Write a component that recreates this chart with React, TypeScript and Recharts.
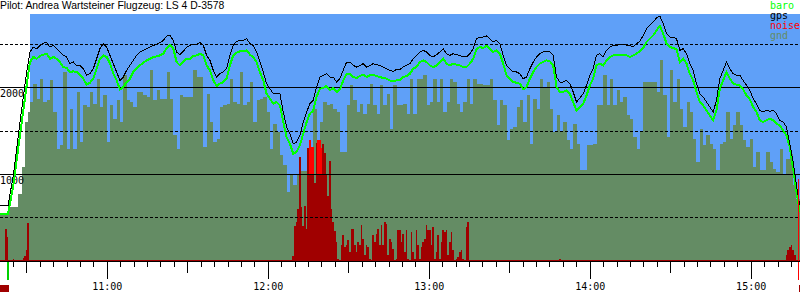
import React from "react";
import { Area, Bar, ComposedChart, Line, ReferenceArea, ReferenceLine, XAxis, YAxis } from "recharts";

const title = "Pilot: Andrea Wartsteiner Flugzeug: LS 4 D-3578";
const legendNames = ["baro", "gps", "noise", "gnd"];
const legendColors = ["#00ff00", "#000000", "#ff0000", "#648c64"];

// time in minutes since midnight
const startMin = 620;
const endMin = 918.2;
const trackStart = 631.18;
const trackStep = 1.2422;
const altMax = 2850;
const gridSolid = [1000, 2000];
const gridDashed = [500, 1500, 2500];

// ground roll and climb
const climbTimes = [620, 623, 624.97, 627.45, 629.94];
const gpsClimb = [642, 642, 988, 1603, 2181];
const baroClimb = [546, 546, 873, 1450, 2027];
const gndClimbTimes = [620, 623.1, 626.83, 628.08, 629.32, 630.56];
const gndClimb = [546, 623, 777, 1084, 1603, 1719];

const gpsAlt = [
  2411, 2469, 2450, 2488, 2515, 2519, 2469, 2488, 2450, 2411, 2373, 2354, 2277, 2296, 2257, 2257, 2219, 2142, 2161, 2219,
  2334, 2450, 2508, 2469, 2373, 2277, 2181, 2084, 2123, 2200, 2257, 2315, 2373, 2411, 2431, 2450, 2469, 2488, 2500, 2519,
  2546, 2596, 2604, 2546, 2411, 2381, 2419, 2469, 2488, 2500, 2500, 2519,
  2488, 2373, 2315, 2200, 2123, 2161, 2181, 2219, 2373, 2488, 2534, 2546, 2546, 2565, 2508, 2488, 2411, 2296, 2181, 2046,
  1988, 1930, 1930, 1930, 1719, 1546, 1469, 1353, 1373, 1450, 1603, 1719, 1815, 1854, 2007, 2123, 2142, 2161, 2123, 2123,
  2065, 2104, 2200, 2296, 2296, 2257, 2238, 2257, 2277, 2238, 2257, 2277, 2265, 2257, 2238, 2219, 2200, 2188, 2211, 2211,
  2238, 2257, 2277, 2334, 2373, 2411, 2431, 2411, 2373, 2354, 2381, 2411, 2450, 2392, 2373, 2392, 2381, 2373, 2354, 2354,
  2392, 2450, 2565, 2584, 2584, 2596, 2565, 2527, 2546, 2508, 2373, 2257, 2219, 2181, 2181, 2161, 2104, 2123, 2219, 2296,
  2354, 2392, 2411, 2419, 2411, 2373, 2123, 2065, 2065, 2084, 2046, 1950, 1834, 1880, 1930, 2027, 2142, 2219, 2373, 2392,
  2354, 2431, 2469, 2488, 2488, 2500, 2504, 2488, 2488, 2469, 2508, 2534, 2604, 2681, 2719, 2758, 2804, 2827, 2738, 2623,
  2584, 2584, 2565, 2431, 2450, 2392, 2277, 2200, 2046, 1930, 1892, 1834, 1777, 1719, 1854, 2104, 2200, 2296, 2219, 2161,
  2142, 2142, 2084, 2027, 1969, 1873, 1815, 1738, 1719, 1738, 1727, 1738, 1700, 1623, 1604, 1546, 1353, 1142, 872, 642,
];

const baroAlt = [
  2296, 2354, 2334, 2365, 2381, 2392, 2334, 2354, 2334, 2296, 2238, 2227, 2181, 2188, 2181, 2150, 2104, 2034, 2057, 2104,
  2219, 2334, 2373, 2354, 2277, 2161, 2084, 1980, 2007, 2065, 2104, 2181, 2219, 2257, 2288, 2315, 2334, 2354, 2361, 2373,
  2392, 2458, 2488, 2450, 2296, 2257, 2304, 2334, 2334, 2365, 2373, 2392,
  2373, 2257, 2200, 2084, 2019, 2046, 2065, 2104, 2257, 2373, 2404, 2419, 2419, 2431, 2381, 2354, 2296, 2181, 2084, 1930,
  1873, 1815, 1834, 1796, 1603, 1430, 1353, 1238, 1257, 1334, 1469, 1603, 1700, 1738, 1892, 1988, 1996, 2019, 1969, 1996,
  1950, 1980, 2084, 2161, 2161, 2123, 2111, 2134, 2150, 2123, 2142, 2150, 2134, 2123, 2111, 2104, 2084, 2073, 2084, 2084,
  2123, 2134, 2161, 2219, 2238, 2296, 2315, 2296, 2257, 2238, 2257, 2296, 2334, 2277, 2257, 2277, 2265, 2257, 2238, 2238,
  2277, 2334, 2442, 2469, 2458, 2481, 2450, 2411, 2431, 2392, 2277, 2142, 2104, 2065, 2057, 2046, 1980, 2007, 2104, 2181,
  2238, 2277, 2296, 2315, 2304, 2257, 2007, 1950, 1950, 1969, 1930, 1834, 1738, 1777, 1815, 1911, 2027, 2104, 2257, 2277,
  2257, 2315, 2354, 2373, 2373, 2381, 2381, 2373, 2354, 2373, 2392, 2419, 2458, 2527, 2565, 2604, 2661, 2711, 2623, 2508,
  2469, 2458, 2442, 2296, 2334, 2277, 2161, 2084, 1950, 1834, 1796, 1738, 1681, 1623, 1738, 1988, 2084, 2181, 2104, 2046,
  2034, 2027, 1980, 1911, 1865, 1777, 1719, 1623, 1604, 1623, 1642, 1623, 1584, 1565, 1507, 1450, 1315, 1065, 796, 565,
];

const gndAlt = [
  1834, 2046, 1873, 2104, 1834, 1854, 2084, 1719, 1296, 1334, 2181, 1296, 1757, 1296, 1950, 1373, 1796, 1777, 1950, 1815,
  2104, 1777, 1911, 1373, 1796, 1642, 1854, 1603, 2142, 1854, 1834, 1777, 1950, 1950, 1911, 1892, 2200, 1854, 1969, 1873,
  1873, 2181, 1873, 1450, 1296, 1911, 1892, 1892, 1892, 2200, 2123,
  2123, 1315, 1930, 1603, 1373, 1411, 1777, 1796, 1815, 2104, 1834, 1815, 2181, 1796, 1834, 2065, 1603, 1854, 1873, 1892,
  1719, 1296, 1584, 1488, 1219, 1104, 800, 988, 873, 988, 1034, 1034, 1034, 1027, 1757, 1027, 1603, 1834, 1796, 1815,
  1757, 1719, 1257, 1257, 1796, 2027, 1854, 1719, 1815, 1700, 1815, 2046, 1796, 1700, 2027, 1796, 1930, 1527, 2027, 1796,
  1796, 1815, 1700, 2104, 1700, 2104, 2104, 2142, 1796, 1834, 2104, 1834, 2104, 1719, 1834, 2104, 2065, 1815, 1719, 1834,
  2104, 1815, 2104, 2046, 2046, 2034, 2027, 2104, 1854, 1565, 1854, 1796, 1392, 1527, 1546, 1777, 1854, 1603, 1911, 1354,
  1873, 1757, 2104, 2008, 2065, 1757, 1488, 1681, 1488, 1603, 1392, 1296, 1584, 1354, 1046, 1046, 1334, 1334, 1354, 1796,
  1796, 2142, 1796, 2104, 1796, 1969, 1834, 1892, 1681, 1642, 1430, 1296, 1488, 2065, 2065, 2065, 2065, 1950, 2315, 1911,
  1430, 2200, 1834, 2104, 1757, 1546, 1834, 1719, 1411, 1142, 1527, 1334, 1450, 1354, 1296, 1046, 1354, 1373, 1719, 1411,
  1565, 1719, 1565, 1392, 1315, 1411, 1084, 1257, 1046, 1046, 1257, 1142, 1065, 1027, 1296, 988, 1180, 1238, 873, 719,
];

// engine noise level
const noiseEarlyTimes = [622.24, 622.86, 624.97, 628.7, 629.32, 629.94, 630.56];
const noiseEarly = [369, 277, 20, 40, 60, 127, 438];
const noiseStart = 729.32;
const noiseStep = 0.6211;
const noiseMain = [
  60, 400, 450, 600, 1200, 620, 400, 640, 370, 1300, 1396, 1320, 1320, 900, 1365, 1396, 1396, 1300, 1350, 1250,
  1000, 750, 1150, 600, 450, 350,
  219, 26, 7, 180, 296, 161, 180, 238, 103, 372, 372, 180, 103, 219, 180, 411, 257, 65, 180, 161,
  26, 7, 296, 219, 315, 372, 180, 411, 180, 449, 430, 65, 257, 219, 142, 7, 26, 353,
  353, 219, 315, 103, 353, 26, 7, 334, 103, 26, 353, 180, 26, 161, 219, 257, 411, 353, 353, 180,
  392, 26, 103, 296, 26, 219, 353, 334, 353, 65, 219, 334, 123, 7, 26, 46, 103, 123, 26, 7, 392, 449,
];
// samples drawn bright red above the hot floor
const noiseHotIdx = [10, 11, 12, 15, 16, 17];
const noiseHotFloor = 1000;
const noiseLateTimes = [828.7, 913.18, 913.8, 914.42, 915.04, 915.66, 916.28];
const noiseLate = [26, 65, 123, 161, 180, 123, 65];
const noiseFloor = 9;

const takeoff = [622.5, 623.4];
const landing = [917.3, 917.8];

const lineData = [
  ...climbTimes.map((t, i) => ({ t, gps: gpsClimb[i], baro: baroClimb[i] })),
  ...gpsAlt.map((v, i) => ({ t: trackStart + i * trackStep, gps: v, baro: baroAlt[i] })),
];

const gndData = [
  ...gndClimbTimes.map((t, i) => ({ t, gnd: gndClimb[i] })),
  ...gndAlt.map((v, i) => ({ t: trackStart + i * trackStep, gnd: v })),
  { t: endMin, gnd: gndAlt[gndAlt.length - 1] },
];

const noiseData = [
  ...noiseEarlyTimes.map((t, i) => ({ t, noise: noiseEarly[i], hot: 0 })),
  ...noiseMain.map((v, i) => {
    const isHot = noiseHotIdx.includes(i);
    return {
      t: noiseStart + i * noiseStep,
      noise: isHot ? noiseHotFloor : v,
      hot: isHot ? v - noiseHotFloor : 0,
    };
  }),
  ...noiseLateTimes.map((t, i) => ({ t, noise: noiseLate[i], hot: 0 })),
];

const timeTicks: number[] = [];
for (let m = 625; m <= 915; m += 5) timeTicks.push(m);

const mono = "'DejaVu Sans Mono', monospace";

function TimeTick(props: any) {
  const { x, y, payload } = props;
  const m = Math.round(payload.value);
  const hour = m % 60 === 0;
  const half = m % 30 === 0;
  const len = hour ? 18 : half ? 12 : 6;
  return (
    <g>
      <line x1={x} x2={x} y1={y} y2={y + len} stroke="#000" />
      {hour && (
        <text x={x} y={y + 28.5} textAnchor="middle" fontFamily={mono} fontSize={10} fill="#000">
          {`${m / 60}:00`}
        </text>
      )}
    </g>
  );
}

const altLabel = (text: string) => (props: any) => (
  <text x={props.viewBox.x} y={props.viewBox.y + 9.5} fontFamily={mono} fontSize={10} fill="#000">
    {text}
  </text>
);

export default function App() {
  return (
    <div style={{ position: "absolute", left: 0, top: 0, width: 800, height: 300, background: "#fff" }}>
      <style>{".recharts-wrapper svg { shape-rendering: crispEdges; }"}</style>
      <ComposedChart
        width={800}
        height={300}
        data={noiseData}
        margin={{ top: 14, right: 0, bottom: 0, left: 0 }}
        barCategoryGap={0}
        barGap={0}
      >
        <XAxis
          dataKey="t"
          type="number"
          domain={[startMin, endMin]}
          allowDataOverflow
          ticks={timeTicks}
          interval={0}
          tick={<TimeTick />}
          tickLine={false}
          tickSize={0}
          tickMargin={0}
          height={39}
          axisLine={{ stroke: "#000" }}
        />
        <XAxis xAxisId="n" dataKey="t" type="number" domain={[startMin, endMin]} allowDataOverflow hide />
        <YAxis hide domain={[0, altMax]} allowDataOverflow />

        <ReferenceArea x1={trackStart} x2={endMin} y1={0} y2={altMax} fill="#5fa0f8" fillOpacity={1} stroke="none" zIndex={-200} />
        <Area
          data={gndData}
          dataKey="gnd"
          name="gnd"
          type="stepAfter"
          stroke="none"
          fill="#648c64"
          fillOpacity={1}
          baseValue={0}
          isAnimationActive={false}
          zIndex={100}
        />
        <Bar xAxisId="n" stackId="noise" dataKey="noise" name="noise" fill="#a00000" barSize={2} isAnimationActive={false} zIndex={300} />
        <Bar xAxisId="n" stackId="noise" dataKey="hot" fill="#ff0000" barSize={2} isAnimationActive={false} zIndex={300} />
        <ReferenceLine y={noiseFloor} stroke="#a00000" zIndex={302} />

        {gridDashed.map((v) => (
          <ReferenceLine key={v} y={v} stroke="#000" strokeDasharray="3 2" zIndex={350} />
        ))}
        {gridSolid.map((v) => (
          <ReferenceLine key={v} y={v} stroke="#000" zIndex={350} label={{ content: altLabel(String(v)) }} />
        ))}

        <Line data={lineData} dataKey="baro" name="baro" stroke="#00ff00" strokeWidth={2} dot={false} isAnimationActive={false} zIndex={400} />
        <Line data={lineData} dataKey="gps" name="gps" stroke="#000" strokeWidth={1} dot={false} isAnimationActive={false} zIndex={401} />

        <ReferenceArea x1={takeoff[0]} x2={takeoff[1]} y1={-220} y2={0} fill="#00d000" fillOpacity={1} stroke="none" ifOverflow="visible" zIndex={450} />
        <ReferenceArea x1={landing[0]} x2={landing[1]} y1={-220} y2={950} fill="#ff0000" fillOpacity={1} stroke="none" ifOverflow="visible" zIndex={450} />
        <ReferenceArea x1={startMin} x2={takeoff[1]} y1={-355} y2={-277} fill="#a00000" fillOpacity={1} stroke="none" ifOverflow="visible" zIndex={450} />
        <ReferenceArea x1={landing[1]} x2={endMin} y1={-355} y2={-277} fill="#a00000" fillOpacity={1} stroke="none" ifOverflow="visible" zIndex={450} />
      </ComposedChart>

      <div
        style={{
          position: "absolute",
          left: 0,
          top: 0,
          fontFamily: "'Liberation Sans', Arial, sans-serif",
          fontSize: 10.4,
          lineHeight: "12px",
          color: "#000",
          whiteSpace: "nowrap",
        }}
      >
        {title}
      </div>
      <div style={{ position: "absolute", left: 770, top: 1, fontFamily: mono, fontSize: 10, lineHeight: "10px" }}>
        {legendNames.map((n, i) => (
          <div key={n} style={{ color: legendColors[i] }}>
            {n}
          </div>
        ))}
      </div>
    </div>
  );
}
